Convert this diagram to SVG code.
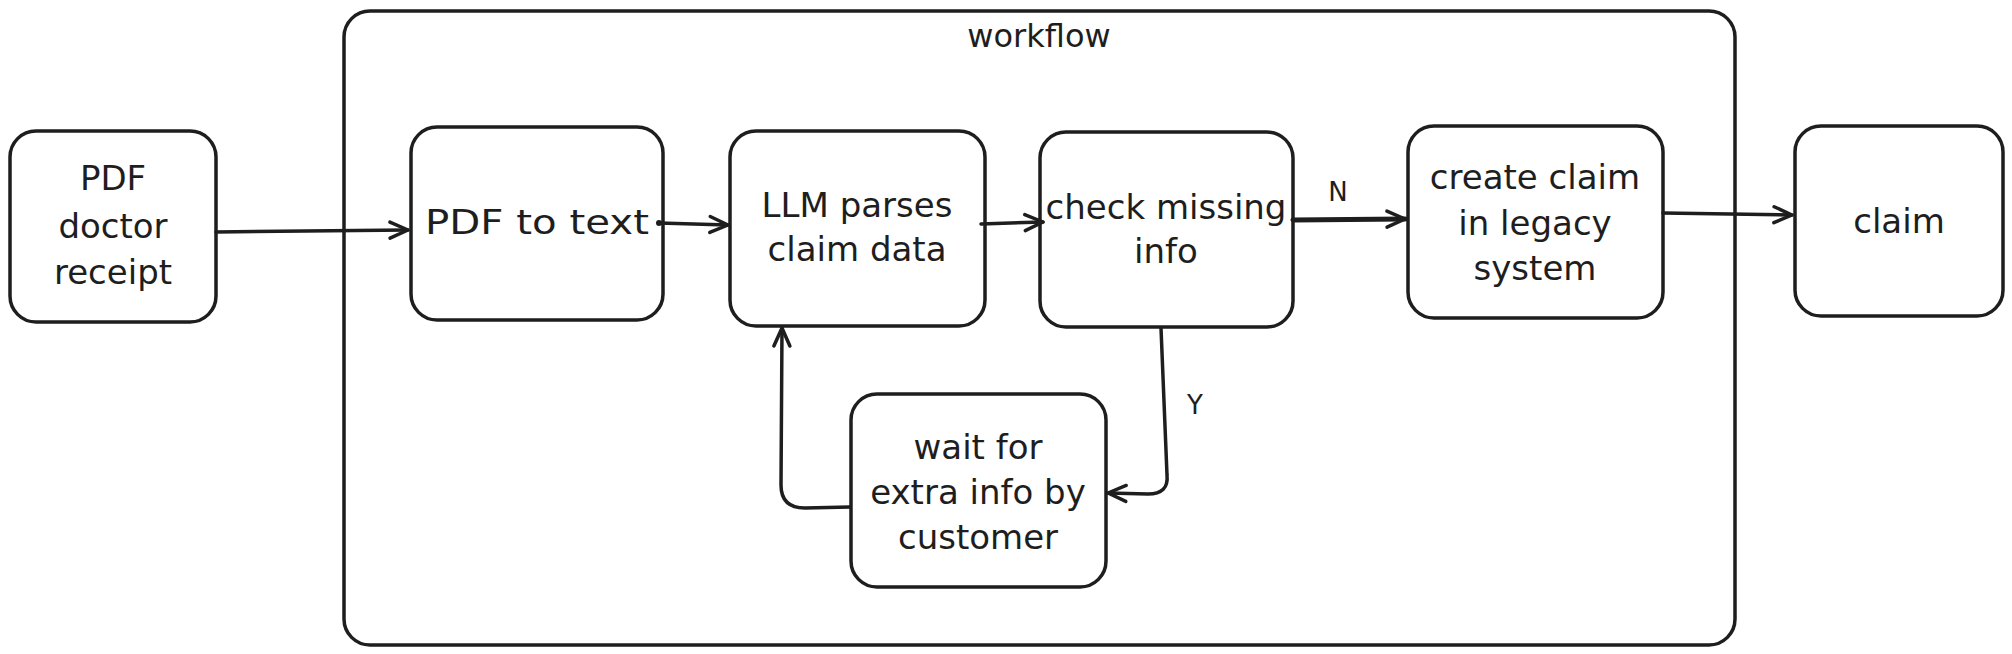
<svg xmlns="http://www.w3.org/2000/svg" width="2012" height="654" viewBox="0 0 2012 654">
<defs>
<style>
.box{fill:#ffffff;stroke:#1e1e1e;stroke-width:3.5}
.frame{fill:none;stroke:#1e1e1e;stroke-width:3.5}
.t{font-family:"DejaVu Sans","Liberation Sans",sans-serif;font-size:34px;fill:#1e1e1e;text-anchor:middle}
.lbl{font-family:"DejaVu Sans","Liberation Sans",sans-serif;font-size:26px;fill:#1e1e1e;text-anchor:middle}
.c{fill:none;stroke:#1e1e1e;stroke-width:3.5;stroke-linecap:round;stroke-linejoin:round}
</style>
<marker id="ah" viewBox="-22 -12 26 24" refX="0" refY="0" markerWidth="26" markerHeight="24" markerUnits="userSpaceOnUse" orient="auto">
<path d="M-18,-8 L0,0 L-18,8" fill="none" stroke="#1e1e1e" stroke-width="3.5" stroke-linecap="round" stroke-linejoin="round"/>
</marker>
</defs>
<g id="workflow">
<rect class="frame" x="344" y="11" width="1391" height="634" rx="26"/>
<text class="t" x="1039" y="47" style="font-size:32px">workflow</text>
</g>
<g id="pdf-doctor-receipt">
<rect class="box" x="10" y="131" width="206" height="191" rx="26"/>
<text class="t" x="113" y="190">PDF</text>
<text class="t" x="113" y="238">doctor</text>
<text class="t" x="113" y="284">receipt</text>
</g>
<g id="pdf-to-text">
<rect class="box" x="411" y="127" width="252" height="193" rx="26"/>
<text class="t" x="537" y="234" textLength="224" lengthAdjust="spacingAndGlyphs">PDF to text</text>
</g>
<g id="llm-parses">
<rect class="box" x="730" y="131" width="255" height="195" rx="26"/>
<text class="t" x="857" y="217">LLM parses</text>
<text class="t" x="857" y="261">claim data</text>
</g>
<g id="check-missing">
<rect class="box" x="1040" y="132" width="253" height="195" rx="26"/>
<text class="t" x="1166" y="219">check missing</text>
<text class="t" x="1166" y="263">info</text>
</g>
<g id="create-claim">
<rect class="box" x="1408" y="126" width="255" height="192" rx="26"/>
<text class="t" x="1535" y="189">create claim</text>
<text class="t" x="1535" y="235">in legacy</text>
<text class="t" x="1535" y="280">system</text>
</g>
<g id="claim">
<rect class="box" x="1795" y="126" width="208" height="190" rx="26"/>
<text class="t" x="1899" y="233">claim</text>
</g>
<g id="wait-for-info">
<rect class="box" x="851" y="394" width="255" height="193" rx="26"/>
<text class="t" x="978" y="459">wait for</text>
<text class="t" x="978" y="504">extra info by</text>
<text class="t" x="978" y="549">customer</text>
</g>
<g id="connectors">
<path class="c" d="M216,232 L408,230" marker-end="url(#ah)"/>
<circle cx="659" cy="223" r="3" fill="#1e1e1e"/>
<path class="c" d="M659,223 L728,225" marker-end="url(#ah)"/>
<path class="c" d="M981,224 L1043,222" marker-end="url(#ah)"/>
<path class="c" d="M1293,220 L1405,219" style="stroke-width:5" marker-end="url(#ah)"/>
<path class="c" d="M1663,213 L1792,215" marker-end="url(#ah)"/>
<path class="c" d="M1161,328 L1167,475 Q1169,494 1148,494 L1108,493" marker-end="url(#ah)"/>
<path class="c" d="M850,507 L805,508 Q781,508 781,485 L782,328" marker-end="url(#ah)"/>
<text class="lbl" x="1338" y="201">N</text>
<text class="lbl" x="1195" y="414">Y</text>
</g>
</svg>
